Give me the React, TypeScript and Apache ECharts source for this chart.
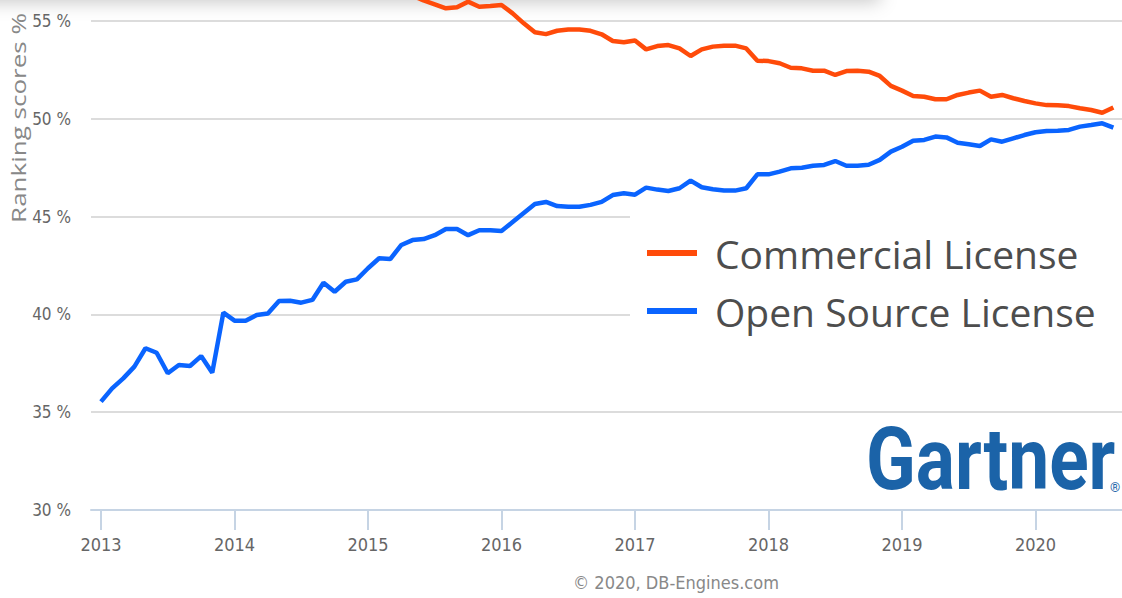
import React, { useEffect, useRef } from "react";
import * as echarts from "echarts";

const yearTicks = [2013, 2014, 2015, 2016, 2017, 2018, 2019, 2020];
const startYear = 2013;
// monthly points, Jan 2013 .. Aug 2020
const commercial = [
  64.5, 63.8, 63.3, 62.7, 61.8, 62.0, 63.0, 62.6, 62.6, 62.1, 62.9, 59.9,
  60.3, 60.3, 60.0, 59.9, 59.3, 59.3, 59.4, 59.2, 58.4, 58.8, 58.3, 58.2,
  57.6, 57.1, 57.2, 56.5, 56.3, 56.05, 55.85, 55.65, 55.7, 55.99, 55.73, 55.77,
  55.82, 55.39, 54.88, 54.42, 54.33, 54.5, 54.57, 54.57, 54.5, 54.32, 53.98, 53.91,
  54.0, 53.55, 53.72, 53.77, 53.6, 53.21, 53.55, 53.69, 53.74, 53.74, 53.6, 52.97,
  52.95, 52.84, 52.61, 52.58, 52.46, 52.46, 52.24, 52.44, 52.46, 52.41, 52.19, 51.68,
  51.44, 51.17, 51.13, 51.0, 51.0, 51.22, 51.34, 51.44, 51.13, 51.22, 51.05, 50.91,
  50.79, 50.7, 50.69, 50.65, 50.54, 50.45, 50.31, 50.58,
];
const openSource = [
  35.54, 36.22, 36.73, 37.33, 38.27, 38.04, 36.99, 37.41, 37.36, 37.87, 37.02, 40.09,
  39.68, 39.68, 39.97, 40.05, 40.68, 40.7, 40.6, 40.74, 41.62, 41.16, 41.67, 41.79,
  42.36, 42.87, 42.83, 43.55, 43.8, 43.85, 44.05, 44.37, 44.37, 44.05, 44.3, 44.3,
  44.26, 44.72, 45.18, 45.64, 45.75, 45.54, 45.5, 45.5, 45.6, 45.75, 46.1, 46.19,
  46.12, 46.48, 46.38, 46.31, 46.45, 46.84, 46.5, 46.4, 46.33, 46.33, 46.45, 47.16,
  47.16, 47.3, 47.47, 47.5, 47.6, 47.64, 47.84, 47.6, 47.6, 47.65, 47.9, 48.32,
  48.57, 48.88, 48.92, 49.09, 49.05, 48.78, 48.7, 48.61, 48.95, 48.83, 49.0, 49.17,
  49.31, 49.38, 49.39, 49.43, 49.6, 49.68, 49.77, 49.55,
];
const months = commercial.map((_, i) => startYear + i / 12);
const yTicks = [30, 35, 40, 45, 50, 55];

const condensed = "'Liberation Sans Narrow', 'DejaVu Sans Condensed', 'Roboto Condensed', sans-serif";

export default function App() {
  const ref = useRef<HTMLDivElement>(null);
  useEffect(() => {
    document.body.style.margin = "0";
    const chart = echarts.init(ref.current!, null, { renderer: "svg" });
    const option: any = {
      animation: false,
      backgroundColor: "#ffffff",
      grid: { left: 91, right: 0, top: 21, bottom: 88, containLabel: false },
      xAxis: {
        type: "value",
        min: 2013 - 10 / 133.5,
        max: 2013 + 1021 / 133.5,
        axisLine: { show: true, lineStyle: { color: "#c6d4e4", width: 2 } },
        axisTick: { show: true, length: 20, customValues: yearTicks, lineStyle: { color: "#c6d4e4", width: 2 } },
        axisLabel: {
          customValues: yearTicks,
          formatter: (v: number) => String(Math.round(v)),
          color: "#666",
          fontSize: 18,
          fontFamily: condensed,
          margin: 25,
        },
        splitLine: { show: false },
      },
      yAxis: {
        type: "value",
        min: yTicks[0],
        max: yTicks[yTicks.length - 1],
        interval: 5,
        axisLine: { show: false },
        axisTick: { show: false },
        axisLabel: {
          formatter: "{value} %",
          color: "#666",
          fontSize: 17,
          fontFamily: condensed,
          margin: 20,
        },
        splitLine: { show: true, lineStyle: { color: "#dcdcdc", width: 2 } },
      },
      legend: {
        orient: "vertical",
        left: 647,
        top: 231,
        padding: 0,
        itemGap: 14,
        itemWidth: 50,
        itemHeight: 6,
        icon: "rect",
        z: 5,
        textStyle: {
          fontFamily: "'Open Sans', sans-serif",
          fontSize: 39,
          lineHeight: 44,
          color: "#4d4d4d",
          padding: [0, 0, 0, 13],
        },
        data: ["Commercial License", "Open Source License"],
      },
      graphic: [
        {
          type: "rect",
          z: 0,
          shape: { x: -40, y: -40, width: 920, height: 40 },
          style: { fill: "#ffffff", shadowBlur: 18, shadowColor: "rgba(0,0,0,0.22)", shadowOffsetY: 2 },
        },
        {
          type: "rect",
          z: 3,
          shape: { x: 630, y: 214, width: 500, height: 116 },
          style: { fill: "#ffffff" },
        },
        {
          type: "text",
          z: 5,
          x: 18,
          y: 118,
          rotation: Math.PI / 2,
          scaleX: 1.3,
          style: {
            text: "Ranking scores %",
            fontFamily: "'Open Sans', sans-serif",
            fontSize: 20,
            fill: "#888",
            align: "center",
            verticalAlign: "middle",
          },
        },
        {
          type: "text",
          z: 5,
          x: 866,
          y: 459,
          scaleX: 0.84,
          style: {
            text: "Gartner",
            fontFamily: "Roboto, sans-serif",
            fontWeight: "bold",
            fontSize: 87,
            fill: "#1b63a8",
            align: "left",
            verticalAlign: "middle",
          },
        },
        {
          type: "text",
          z: 5,
          x: 1110,
          y: 487,
          style: {
            text: "®",
            fontFamily: "Roboto, sans-serif",
            fontSize: 13,
            fill: "#1b63a8",
            align: "left",
            verticalAlign: "middle",
          },
        },
        {
          type: "text",
          z: 5,
          x: 676,
          y: 582,
          style: {
            text: "© 2020, DB-Engines.com",
            fontFamily: condensed,
            fontSize: 18,
            fill: "#888",
            align: "center",
            verticalAlign: "middle",
          },
        },
      ],
      series: [
        {
          name: "Commercial License",
          type: "line",
          data: months.map((m, i) => [m, commercial[i]]),
          showSymbol: false,
          clip: false,
          z: 2,
          color: "#ff4b0a",
          lineStyle: { width: 4.5, color: "#ff4b0a" },
        },
        {
          name: "Open Source License",
          type: "line",
          data: months.map((m, i) => [m, openSource[i]]),
          showSymbol: false,
          clip: false,
          z: 2,
          color: "#0a64ff",
          lineStyle: { width: 4.5, color: "#0a64ff" },
        },
      ],
    };
    chart.setOption(option);
    return () => chart.dispose();
  }, []);
  return (
    <div
      ref={ref}
      style={{ position: "fixed", left: 0, top: 0, width: 1122, height: 598 }}
    />
  );
}
